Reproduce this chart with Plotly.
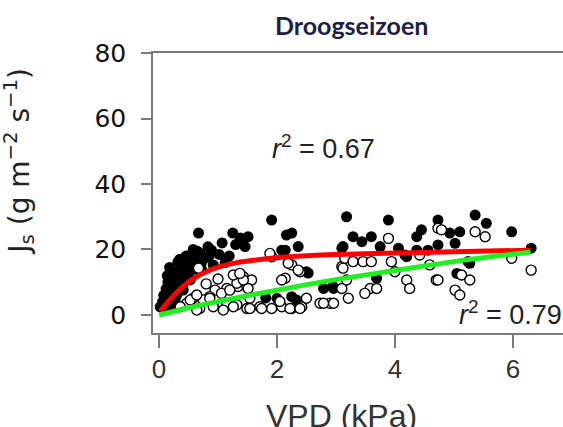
import plotly.graph_objects as go

# Sap flux density (Js) versus vapour pressure deficit, dry season
# filled circles: group with saturating response
vpd_filled = [0.02, 0.10, 0.19, 0.27, 0.36, 0.24, 0.44, 0.53, 0.61, 0.69, 0.78, 0.53, 0.41, 0.32,
              0.15, 0.83, 0.92, 1.07, 1.19, 1.12, 0.27, 0.19, 0.67, 0.89, 0.58, 1.25, 1.38, 1.30,
              1.51, 1.46, 1.91, 2.25, 2.14, 2.36, 2.16, 2.08, 2.50, 2.53, 1.81, 2.00, 2.25, 2.33,
              2.79, 2.96, 2.95, 3.12, 3.18, 3.89, 3.29, 3.44, 3.60, 3.10, 3.75, 4.06, 4.17, 4.37,
              4.45, 4.37, 4.56, 3.69, 4.73, 5.36, 5.55, 5.98, 4.93, 5.10, 5.02, 4.73, 6.31, 5.24,
              5.05, 5.27, 4.20, 0.48, 0.72, 1.02,
              0.05, 0.08, 0.12, 0.15, 0.20, 0.28, 0.33, 0.38, 0.45, 0.50, 0.55, 0.62, 0.65, 0.72,
              0.30, 0.10, 0.22, 0.40, 0.06, 0.14, 0.25, 0.35, 0.46, 0.58, 0.18, 0.42, 0.85]
js_filled = [2.5, 4.6, 6.7, 8.6, 10.7, 12.2, 13.1, 15.3, 17.4, 18.9, 17.4, 10.7, 7.6, 16.2,
             10.1, 20.8, 15.3, 22.0, 18.0, 16.0, 4.6, 2.1, 25.0, 19.8, 16.8, 25.0, 23.5, 21.5,
             23.9, 20.9, 29.0, 25.0, 19.8, 20.9, 24.4, 19.8, 13.2, 12.8, 5.2, 5.1, 5.6, 4.6,
             8.1, 8.1, 8.7, 20.9, 30.0, 29.0, 23.9, 22.4, 23.9, 20.4, 20.9, 20.4, 18.3, 23.9,
             26.0, 19.8, 19.8, 11.2, 29.0, 30.5, 28.0, 25.4, 25.0, 25.4, 21.9, 21.4, 20.4, 16.3,
             12.7, 15.8, 17.8, 11.5, 14.0, 18.5,
             3.0, 6.0, 8.0, 5.0, 11.0, 13.0, 11.0, 14.0, 16.0, 12.5, 18.5, 14.0, 19.5, 16.0,
             6.0, 1.5, 3.5, 9.0, 4.0, 12.0, 9.5, 17.0, 18.0, 20.0, 14.5, 11.5, 18.0]

# open circles: group with near-linear response
vpd_open = [0.67, 1.91, 2.25, 2.39, 2.14, 1.43, 1.34, 1.49, 1.15, 0.95, 0.86, 0.75, 0.58, 0.47,
            0.36, 0.69, 0.92, 1.15, 1.32, 1.49, 1.71, 1.91, 2.08, 2.25, 2.42, 2.50, 2.73, 2.90,
            3.10, 3.15, 1.88, 2.19, 2.36, 2.08, 1.57, 1.51, 1.54, 1.54, 1.74, 2.05, 2.22, 2.39,
            2.79, 2.96, 3.10, 3.89, 3.12, 3.18, 3.21, 3.29, 3.46, 3.60, 3.58, 3.49, 3.69, 3.94,
            4.00, 4.20, 4.25, 4.42, 4.59, 4.70, 4.73, 4.79, 5.36, 5.53, 5.98, 6.31, 4.73, 5.13,
            5.27, 5.02, 5.10, 0.53, 0.64, 0.86, 1.06, 1.20, 1.32, 1.43, 1.26, 1.37, 0.64, 1.09,
            1.26, 0.80, 1.00]
js_open = [14.3, 17.8, 15.3, 13.2, 11.2, 11.7, 8.7, 8.7, 8.1, 7.6, 5.6, 4.6, 5.1, 3.6,
           2.5, 2.0, 2.5, 3.6, 3.1, 2.0, 2.5, 2.0, 2.5, 2.0, 2.5, 5.1, 3.6, 3.6,
           14.8, 17.3, 18.8, 15.8, 13.7, 10.7, 10.7, 8.1, 5.1, 2.0, 2.0, 4.1, 2.0, 2.0,
           3.6, 3.6, 8.1, 23.4, 14.3, 10.7, 5.1, 16.3, 16.3, 16.3, 8.1, 6.6, 8.1, 16.3,
           13.2, 10.7, 8.1, 18.3, 15.3, 10.7, 26.5, 26.0, 25.4, 23.9, 17.3, 13.7, 10.7, 12.2,
           10.7, 7.6, 6.1, 4.6, 6.1, 5.1, 6.6, 7.6, 9.7, 10.7, 12.2, 12.7, 1.5, 1.5,
           2.5, 9.5, 11.0]

# fitted curves
fit_sat_x = [0.02, 0.2, 0.4, 0.6, 0.8, 1.0, 1.3, 1.6, 2.0, 2.5, 3.0, 4.0, 5.0, 6.3]
fit_sat_y = [1.2, 5.0, 8.6, 11.3, 13.2, 14.6, 15.9, 16.7, 17.5, 18.1, 18.5, 18.9, 19.3, 19.8]
fit_lin_x = [0.0, 0.5, 1.0, 2.0, 3.0, 4.0, 5.0, 6.3]
fit_lin_y = [0.0, 2.2, 4.1, 7.6, 10.8, 13.6, 16.3, 19.2]

x_ticks = [0, 2, 4, 6]
y_ticks = [0, 20, 40, 60, 80]

fig = go.Figure()
fig.add_trace(go.Scatter(x=vpd_filled, y=js_filled, mode="markers",
                         marker=dict(size=11, color="black", line=dict(width=0)),
                         showlegend=False))
fig.add_trace(go.Scatter(x=vpd_open, y=js_open, mode="markers",
                         marker=dict(size=10, color="white", line=dict(width=1.4, color="black")),
                         showlegend=False))
fig.add_trace(go.Scatter(x=fit_sat_x, y=fit_sat_y, mode="lines",
                         line=dict(color="#ff0000", width=5, shape="spline"), showlegend=False))
fig.add_trace(go.Scatter(x=fit_lin_x, y=fit_lin_y, mode="lines",
                         line=dict(color="#22ee22", width=5, shape="spline"), showlegend=False))

fig.update_layout(
    width=563, height=427,
    margin=dict(l=153, r=0, t=53, b=94),
    paper_bgcolor="white", plot_bgcolor="white",
    xaxis=dict(range=[-0.102, 6.85], tickvals=x_ticks, showgrid=False, zeroline=False,
               showline=True, mirror=True, linecolor="#7a7a7a", linewidth=1.5,
               ticks="outside", ticklen=13, tickwidth=1.5, tickcolor="#7a7a7a",
               tickfont=dict(family="Liberation Sans", size=26, color="#333333"),
               ticklabelstandoff=-1),
    yaxis=dict(range=[-5.5, 80], tickvals=y_ticks, showgrid=False, zeroline=False,
               showline=True, mirror=False, linecolor="#7a7a7a", linewidth=1.5,
               ticks="outside", ticklen=10, tickwidth=1.5, tickcolor="#7a7a7a",
               tickfont=dict(family="DejaVu Sans", size=25, color="#111111"),
               ticklabelstandoff=10),
    annotations=[
        dict(text="<b>Droogseizoen</b>", xref="paper", yref="paper", x=0.483, y=1.1,
             xanchor="center", yanchor="middle", showarrow=False,
             font=dict(family="Lato", size=25, color="#1c2046")),
        dict(text="VPD (kPa)", xref="paper", yref="paper", x=0.46, y=-0.295,
             xanchor="center", yanchor="middle", showarrow=False,
             font=dict(family="Liberation Sans", size=32, color="#333333")),
        dict(text="J<sub>s</sub> (g m<sup>\u22122</sup> s<sup>\u22121</sup>)", xref="paper",
             yref="paper", x=-0.325, y=0.611, xanchor="center", yanchor="middle",
             textangle=-90, showarrow=False,
             font=dict(family="DejaVu Sans", size=28, color="#222222")),
        dict(text="<i>r</i><sup>2</sup> = 0.67", xref="x", yref="y", x=1.88, y=51.3,
             xanchor="left", yanchor="middle", showarrow=False,
             font=dict(family="Liberation Sans", size=27, color="#222222")),
        dict(text="<i>r</i><sup>2</sup> = 0.79", xref="x", yref="y", x=5.05, y=0.75,
             xanchor="left", yanchor="middle", showarrow=False,
             font=dict(family="Liberation Sans", size=27, color="#222222")),
    ],
)

fig.write_html("out.html")
